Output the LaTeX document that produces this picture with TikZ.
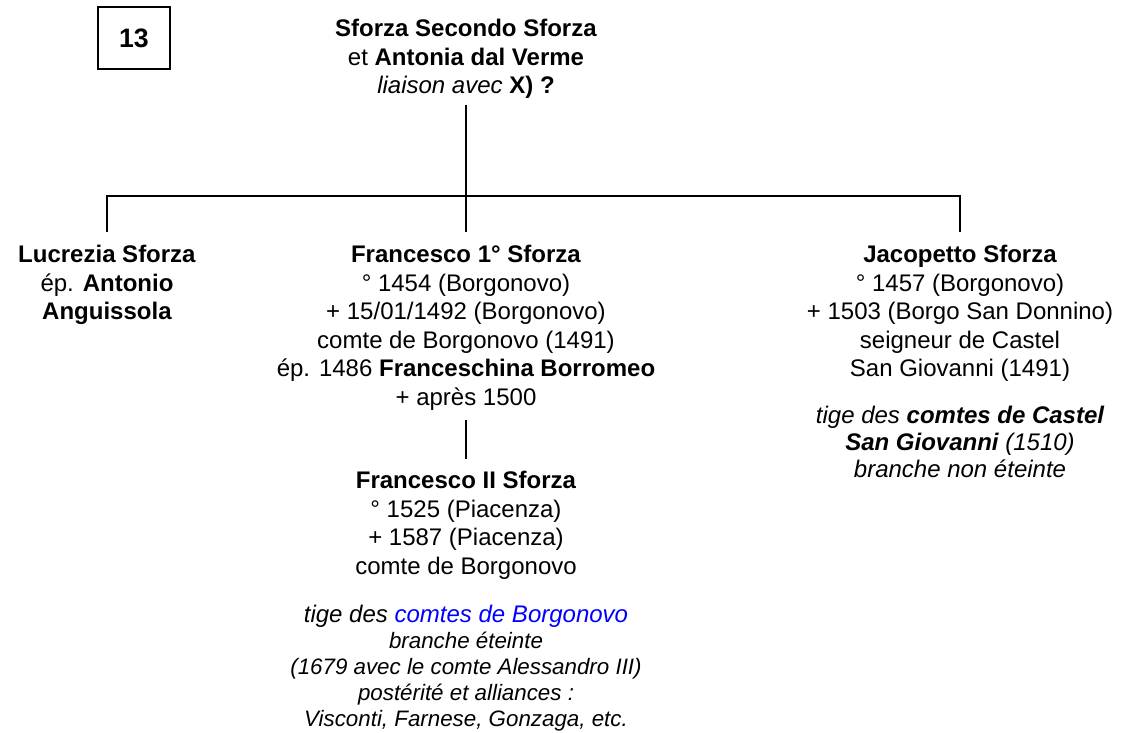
\documentclass[tikz,border=0pt]{standalone}
\usepackage{fontspec}
\setmainfont{Liberation Sans}
\usepackage{xcolor}
\begin{document}
\begin{tikzpicture}[
        x=0.75pt, y=-0.75pt,
        person/.style={align=center, inner sep=0pt, anchor=north, font=\fontsize{18}{21.4}\selectfont},
        stem/.style={align=center, inner sep=0pt, anchor=north, font=\fontsize{18}{20.3}\selectfont\itshape},
        smallstem/.style={align=center, inner sep=0pt, anchor=north, font=\fontsize{16.75}{19.4}\selectfont\itshape},
        tabbox/.style={draw, line width=1.5pt, minimum width=54pt, minimum height=46.5pt, inner sep=0pt, font=\fontsize{20}{24}\selectfont\bfseries},
        link/.style={line width=1.5pt}
    ]
        \useasboundingbox (0,0) rectangle (1131,732);

        % Table number
        \node[tabbox] (num) at (134,38) {13};

        % Parents
        \node[person] (top) at (466,19) {\textbf{Sforza Secondo Sforza}\\et \textbf{Antonia dal Verme}\\\textit{liaison avec} \textbf{X) ?}};

        % Children
        \node[person] (lucrezia) at (107,245) {\textbf{Lucrezia Sforza}\\ép. \textbf{Antonio}\\\textbf{Anguissola}};
        \node[person] (francesco) at (466,245) {\textbf{Francesco 1° Sforza}\\° 1454 (Borgonovo)\\+ 15/01/1492 (Borgonovo)\\comte de Borgonovo (1491)\\ép. 1486 \textbf{Franceschina Borromeo}\\+ après 1500};
        \node[person] (jacopetto) at (960,245) {\textbf{Jacopetto Sforza}\\° 1457 (Borgonovo)\\+ 1503 (Borgo San Donnino)\\seigneur de Castel\\San Giovanni (1491)};
        \node[stem] (jacopettostem) at (960,406) {tige des \textbf{comtes de Castel}\\\textbf{San Giovanni} (1510)\\branche non éteinte};

        % Grandson
        \node[person] (francesco2) at (466,471) {\textbf{Francesco II Sforza}\\° 1525 (Piacenza)\\+ 1587 (Piacenza)\\comte de Borgonovo};
        \node[smallstem] (francescostem) at (466,605) {{\fontsize{18}{19.4}\selectfont tige des \textcolor{blue}{comtes de Borgonovo}}\\branche éteinte\\(1679 avec le comte Alessandro III)\\postérité et alliances :\\Visconti, Farnese, Gonzaga, etc.};

        % Tree lines
        \coordinate (bar) at (466,196);
        \draw[link, shorten <=4.5pt] (top) -- (bar);
        \draw[link, shorten <=9.75pt, shorten >=9.75pt] (lucrezia) -- (107,196) -- (960,196) -- (jacopetto);
        \draw[link, shorten >=9.75pt] (bar) -- (francesco);
        \draw[link, shorten <=6.75pt, shorten >=9pt] (francesco) -- (francesco2);
    \end{tikzpicture}
\end{document}
